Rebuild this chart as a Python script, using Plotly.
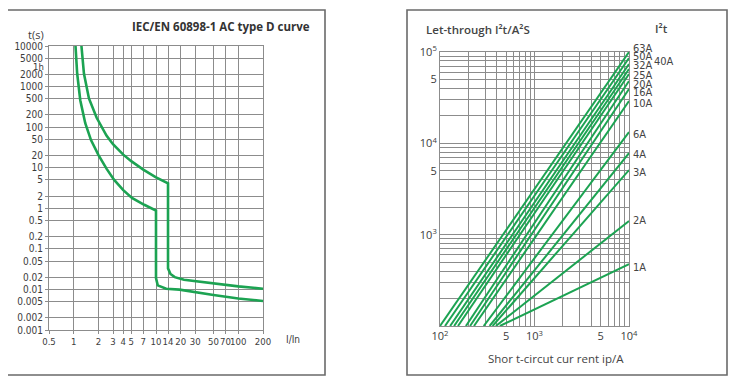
import math
import plotly.graph_objects as go

# ---------------- Left chart: IEC/EN 60898-1 type D tripping curve ----------------
lower_x = [1.05, 1.10, 1.20, 1.38, 1.62, 2.0, 2.5, 3.1, 4.0, 5.1, 7.2, 10.0,
           10.0, 10.5, 13.3, 19.3, 50, 100, 200]
lower_t = [10000, 2100, 460, 125, 48, 20.5, 9.5, 5.0, 2.8, 1.8, 1.22, 0.88,
           0.019, 0.0126, 0.0104, 0.0099, 0.0073, 0.0060, 0.0052]

upper_x = [1.24, 1.33, 1.53, 1.9, 2.5, 3.0, 4.0, 5.0, 7.0, 10.0, 14.0,
           14.0, 15.0, 16.9, 21.9, 50, 100, 200]
upper_t = [10000, 2100, 510, 170, 62, 38, 21, 14.5, 9.0, 5.8, 4.1,
           0.033, 0.024, 0.0201, 0.0174, 0.0139, 0.0119, 0.0104]

left_xticks = [0.5, 1, 2, 3, 4, 5, 7, 10, 14, 20, 30, 50, 70, 100, 200]
left_xticktext = ["0.5", "1", "2", "3", "4", "5", "7", "10", "14", "20", "30",
                  "50", "70", "100", "200"]
left_yticks = [10000, 5000, 2000, 1000, 500, 200, 100, 50, 20, 10, 5, 2, 1,
               0.5, 0.2, 0.1, 0.05, 0.02, 0.01, 0.005, 0.002, 0.001]
left_yticktext = ["10000", "5000", "2000", "1000", "500", "200", "100", "50",
                  "20", "10", "5", "2", "1", "0.5", "0.2", "0.1", "0.05",
                  "0.02", "0.01", "0.005", "0.002", "0.001"]
one_hour = 3600

# ---------------- Right chart: let-through I2t ----------------
ratings = ["63A", "50A", "40A", "32A", "25A", "20A", "16A", "10A",
           "6A", "4A", "3A", "2A", "1A"]
start_current = [100, 113, 128, 141, 155, 188, 208, 229, 290, 335, 360, 390, 430]
start_i2t = 100
end_current = 10000
end_i2t = [100000, 86000, 73900, 65200, 57400, 48100, 39400, 29000,
           13300, 7830, 5100, 1410, 476]
label_shift = [4, 1, 0, 3, -1, -3, -4, -2, -2, -1, -2, 1, -3]

right_xticks = [100, 500, 1000, 5000, 10000]
right_xticktext = ["10<sup>2</sup>", "5", "10<sup>3</sup>", "5", "10<sup>4</sup>"]
right_yticks = [1000, 5000, 10000, 50000, 100000]
right_yticktext = ["10<sup>3</sup>", "5", "10<sup>4</sup>", "5", "10<sup>5</sup>"]

# page body has an 8px margin; the figure is sized to fit inside it
OFF = 8
W, H = 722, 372
GREEN = "#1ca352"
GRID = "#8c8c8c"
TXT = "#3c3c3c"
FONT = "Open Sans"
NARROW = "DejaVu Sans Condensed, Liberation Sans Narrow, Open Sans"


def px(x):
    return (x - OFF) / W


def py(y):
    return (H - (y - OFF)) / H


fig = go.Figure()

fig.add_trace(go.Scatter(x=lower_x, y=lower_t, mode="lines",
                         line=dict(color=GREEN, width=2.6), xaxis="x", yaxis="y",
                         showlegend=False, hoverinfo="skip"))
fig.add_trace(go.Scatter(x=upper_x, y=upper_t, mode="lines",
                         line=dict(color=GREEN, width=2.6), xaxis="x", yaxis="y",
                         showlegend=False, hoverinfo="skip"))

for name, s, e in zip(ratings, start_current, end_i2t):
    fig.add_trace(go.Scatter(x=[s, end_current], y=[start_i2t, e], mode="lines",
                             line=dict(color=GREEN, width=2), xaxis="x2", yaxis="y2",
                             name=name, showlegend=False, hoverinfo="skip"))

minor_vals_x = [d * 10 ** k for k in (2, 3) for d in range(2, 10)]
minor_vals_y = [d * 10 ** k for k in (2, 3, 4) for d in range(2, 10)]

axis_common = dict(showgrid=True, gridcolor=GRID, gridwidth=1, showline=True,
                   linecolor=GRID, linewidth=1, mirror=True, zeroline=False,
                   automargin=False, tickangle=0)

fig.update_layout(
    width=W, height=H, margin=dict(l=0, r=0, t=0, b=0, autoexpand=False),
    paper_bgcolor="white", plot_bgcolor="white",
    xaxis=dict(type="log", domain=[px(49), px(263)],
               range=[math.log10(0.5), math.log10(200)], anchor="y",
               tickmode="array", tickvals=left_xticks, ticktext=left_xticktext,
               ticks="outside", ticklen=3, tickcolor=GRID,
               tickfont=dict(family=NARROW, size=9.5, color=TXT), **axis_common),
    yaxis=dict(type="log", domain=[py(330), py(46)], range=[-3, 4], anchor="x",
               tickmode="array", tickvals=left_yticks, ticktext=left_yticktext,
               ticks="outside", ticklen=3, tickcolor=GRID,
               tickfont=dict(family=NARROW, size=10, color=TXT), **axis_common),
    xaxis2=dict(type="log", domain=[px(440), px(629)], range=[2, 4], anchor="y2",
                tickmode="array", tickvals=right_xticks, ticktext=right_xticktext,
                minor=dict(tickmode="array", tickvals=minor_vals_x, showgrid=True,
                           gridcolor=GRID, gridwidth=1),
                ticks="", tickfont=dict(family=FONT, size=11, color=TXT), **axis_common),
    yaxis2=dict(type="log", domain=[py(326), py(52)], range=[2, 5], anchor="x2",
                tickmode="array", tickvals=right_yticks, ticktext=right_yticktext,
                minor=dict(tickmode="array", tickvals=minor_vals_y, showgrid=True,
                           gridcolor=GRID, gridwidth=1),
                ticks="", tickfont=dict(family=FONT, size=11, color=TXT), **axis_common),
)

# panel frames
fig.add_shape(type="rect", xref="paper", yref="paper", x0=px(4.5), x1=px(325),
              y0=py(375), y1=py(10), line=dict(color="#6a6a6a", width=1.6))
fig.add_shape(type="rect", xref="paper", yref="paper", x0=px(407), x1=px(727),
              y0=py(375), y1=py(10), line=dict(color="#6a6a6a", width=1.6))

ann = []
ann.append(dict(text="IEC/EN 60898-1 AC type D curve", x=px(312), y=py(27),
                xref="paper", yref="paper", xanchor="right", yanchor="middle",
                showarrow=False,
                font=dict(family=FONT, size=11.5, color="#333", weight="bold")))
ann.append(dict(text="t(s)", x=px(36), y=py(34), xref="paper", yref="paper",
                xanchor="center", yanchor="middle", showarrow=False,
                font=dict(family=FONT, size=11, color=TXT)))
ann.append(dict(text="1h", x=px(45.5), y=math.log10(one_hour), xref="paper", yref="y",
                xanchor="right", yanchor="middle", yshift=-2, showarrow=False,
                font=dict(family=NARROW, size=9.5, color=TXT)))
ann.append(dict(text="I/In", x=px(293), y=py(339), xref="paper", yref="paper",
                xanchor="center", yanchor="middle", showarrow=False,
                font=dict(family=NARROW, size=10, color=TXT)))

ann.append(dict(text="Let-through I²t/A²S", x=px(424), y=py(30), xref="paper",
                yref="paper", xanchor="left", yanchor="middle", showarrow=False,
                font=dict(family=FONT, size=11.5, color="#444", weight=600)))
ann.append(dict(text="I²t", x=px(661), y=py(29), xref="paper", yref="paper",
                xanchor="center", yanchor="middle", showarrow=False,
                font=dict(family=FONT, size=11.5, color="#444", weight=600)))
ann.append(dict(text="Shor t-circut cur rent ip/A", x=px(556), y=py(358),
                xref="paper", yref="paper", xanchor="center", yanchor="middle",
                showarrow=False, font=dict(family=FONT, size=11.5, color="#444")))

for name, e, sh in zip(ratings, end_i2t, label_shift):
    if name == "40A":
        ann.append(dict(text=name, x=px(652), y=math.log10(e), xref="paper", yref="y2",
                        xanchor="left", yanchor="middle", yshift=3, showarrow=False,
                        font=dict(family=NARROW, size=11, color="#444")))
    else:
        ann.append(dict(text=name, x=px(631), y=math.log10(e), xref="paper", yref="y2",
                        xanchor="left", yanchor="middle", yshift=sh, showarrow=False,
                        font=dict(family=NARROW, size=11, color="#444")))

fig.update_layout(annotations=ann)

fig.write_html("out.html")
